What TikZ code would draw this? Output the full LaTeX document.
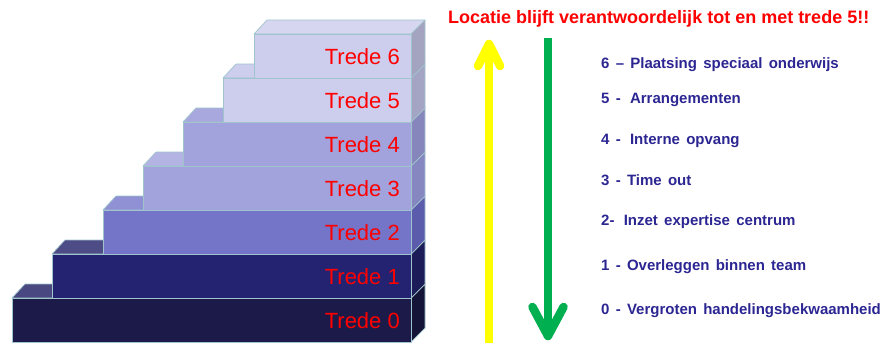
\documentclass[tikz,border=0pt]{standalone}
\usepackage{fontspec}
\setmainfont{Liberation Sans}
\newfontfamily\lijstfont[WordSpace=1.5]{Liberation Sans}
\usetikzlibrary{calc}

\definecolor{tredered}{RGB}{255,0,0}
\definecolor{listblue}{RGB}{44,38,146}
\definecolor{upyellow}{RGB}{255,255,0}
\definecolor{downgreen}{RGB}{0,176,80}
\definecolor{edgecyan}{RGB}{160,196,204}
% front, top and side of every step
\definecolor{f0}{RGB}{28,26,72}   \definecolor{t0}{RGB}{74,72,128}  \definecolor{s0}{RGB}{20,20,56}
\definecolor{f1}{RGB}{35,35,114}  \definecolor{t1}{RGB}{78,76,134}  \definecolor{s1}{RGB}{28,28,88}
\definecolor{f2}{RGB}{116,116,200}\definecolor{t2}{RGB}{144,144,212}\definecolor{s2}{RGB}{92,92,172}
\definecolor{f3}{RGB}{162,162,220}\definecolor{t3}{RGB}{180,180,228}\definecolor{s3}{RGB}{134,134,192}
\definecolor{f4}{RGB}{162,162,220}\definecolor{t4}{RGB}{168,168,222}\definecolor{s4}{RGB}{134,134,188}
\definecolor{f5}{RGB}{205,205,238}\definecolor{t5}{RGB}{205,205,238}\definecolor{s5}{RGB}{164,164,196}
\definecolor{f6}{RGB}{205,205,238}\definecolor{t6}{RGB}{214,214,240}\definecolor{s6}{RGB}{164,164,192}

\tikzset{
    stepface/.style={draw=edgecyan, line width=0.7pt, line join=round},
    tredelabel/.style={anchor=base east, inner sep=0pt, text=tredered, font=\fontsize{22}{24}\selectfont},
    listlabel/.style={anchor=base west, inner sep=0pt, text=listblue, font=\lijstfont\bfseries\fontsize{15}{17}\selectfont},
    arrowshaft/.style={line width=8.5pt},
    arrowbarb/.style={line width=8.5pt, line cap=round, line join=round},
}

\begin{document}
\begin{tikzpicture}[x=1pt,y=-1pt]
\useasboundingbox (0,0) rectangle (883,343);

% trap, van onder naar boven
\foreach \k/\xl in {0/12, 1/52, 2/103, 3/143, 4/183, 5/223, 6/254}{
    \pgfmathsetmacro{\yt}{298-44*\k}
    \pgfmathsetmacro{\yb}{\yt+44}
    \filldraw[stepface, fill=t\k] (\xl,\yt) -- (\xl+13,\yt-14) -- (425,\yt-14) -- (411,\yt) -- cycle;
    \filldraw[stepface, fill=s\k] (411,\yt) -- (425,\yt-14) -- (425,\yb-14) -- (411,\yb) -- cycle;
    \filldraw[stepface, fill=f\k] (\xl,\yt) rectangle (411,\yb);
    \node[tredelabel] (trede\k) at (400,\yt+30) {Trede \k};
}

\node[anchor=base west, inner sep=0pt, text=tredered, font=\bfseries\fontsize{18}{20}\selectfont] (titel) at (448,23) {Locatie blijft verantwoordelijk tot en met trede 5!!};

% pijlen
\coordinate (geelvoet) at (489,343);
\coordinate (geelpunt) at (489,44);
\draw[arrowshaft, upyellow] (geelvoet) -- (geelpunt);
\draw[arrowbarb, upyellow] ($(geelpunt)+(-11,22)$) -- (geelpunt) -- ($(geelpunt)+(11,22)$);

\coordinate (groenstart) at (548,38);
\coordinate (groenpunt) at (548,336);
\draw[arrowshaft, downgreen] (groenstart) -- (groenpunt);
\draw[arrowbarb, downgreen] ($(groenpunt)+(-15.5,-29)$) -- (groenpunt) -- ($(groenpunt)+(15.5,-29)$);

% lijst
\foreach \n/\ly/\tekst in {6/68/{6 – Plaatsing speciaal onderwijs},
                           5/103/{5 -\hspace{3pt} Arrangementen},
                           4/144/{4 -\hspace{3pt} Interne opvang},
                           3/185/{3 - Time out},
                           2/225/{2-\hspace{3pt} Inzet expertise centrum},
                           1/270/{1 - Overleggen binnen team},
                           0/314/{0 - Vergroten handelingsbekwaamheid}}{
    \node[listlabel] (stap\n) at (601,\ly) {\tekst};
}

\end{tikzpicture}
\end{document}
